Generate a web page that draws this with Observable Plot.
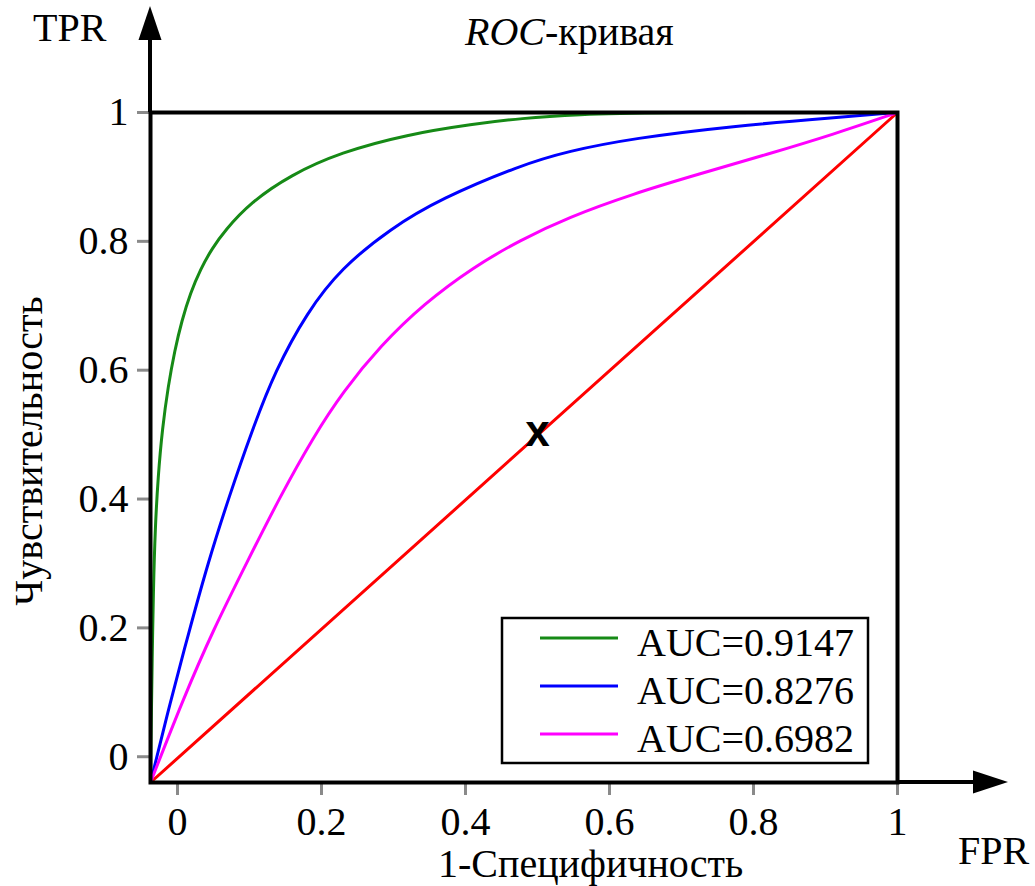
<!DOCTYPE html>
<html>
<head>
<meta charset="utf-8">
<script src="https://cdn.jsdelivr.net/npm/d3@7"></script>
<script src="https://cdn.jsdelivr.net/npm/@observablehq/plot@0.6"></script>
<style>
  html, body { margin: 0; padding: 0; background: #fff; }
  #chart svg { display: block; }
</style>
</head>
<body>
<div id="chart"></div>
<script>
// ---- data ----
const xTicks = [0, 0.2, 0.4, 0.6, 0.8, 1];
const xTickLabels = ["0", "0.2", "0.4", "0.6", "0.8", "1"];
const yTicks = [0, 0.2, 0.4, 0.6, 0.8, 1];
const yTickLabels = ["0", "0.2", "0.4", "0.6", "0.8", "1"];
const xDomain = [-0.0375, 1];
const yDomain = [-0.04, 1];

const seriesNames = ["AUC=0.9147", "AUC=0.8276", "AUC=0.6982"];
const seriesColors = ["#168a16", "#0000ff", "#ff00ff"];

const greenFPR = [-0.0375, -0.0365, -0.0352, -0.0335, -0.031, -0.027, -0.021, -0.013, -0.004, 0.006, 0.018, 0.032, 0.048, 0.066, 0.101, 0.157, 0.226, 0.319, 0.411, 0.476, 0.56, 0.643, 1];
const greenTPR = [-0.04, 0.05, 0.15, 0.26, 0.355, 0.435, 0.51, 0.575, 0.63, 0.677, 0.720, 0.757, 0.789, 0.817, 0.860, 0.903, 0.938, 0.966, 0.982, 0.991, 0.997, 1.0, 1.0];

const blueFPR = [-0.0375, -0.01, 0.015, 0.042, 0.072, 0.103, 0.136, 0.18, 0.227, 0.296, 0.365, 0.476, 0.542, 0.633, 0.772, 0.911, 1];
const blueTPR = [-0.04, 0.085, 0.19, 0.30, 0.405, 0.505, 0.600, 0.69, 0.758, 0.82, 0.866, 0.918, 0.94, 0.960, 0.979, 0.992, 1];

const magentaFPR = [-0.0375, 0.008, 0.05, 0.097, 0.143, 0.189, 0.23, 0.282, 0.342, 0.411, 0.476, 0.542, 0.633, 0.726, 0.819, 0.911, 1];
const magentaTPR = [-0.04, 0.09, 0.198, 0.303, 0.405, 0.497, 0.567, 0.638, 0.703, 0.760, 0.802, 0.837, 0.874, 0.905, 0.935, 0.966, 1];

const diagFPR = [-0.0375, 1];
const diagTPR = [-0.04, 1];
const diagColor = "#ff0000";

const markerFPR = [0.5];
const markerTPR = [0.5];
const markerText = ["x"];

const titleItalic = "ROC";
const titleRest = "-кривая";
const yAxisTitle = "TPR";
const xAxisTitle = "FPR";
const yLabel = "Чувствительность";
const xLabel = "1-Специфичность";

// ---- tables ----
const toRows = (xs, ys) => xs.map((x, i) => ({x, y: ys[i]}));
const curves = [toRows(greenFPR, greenTPR), toRows(blueFPR, blueTPR), toRows(magentaFPR, magentaTPR)];
const diag = toRows(diagFPR, diagTPR);
const markers = markerFPR.map((x, i) => ({x, y: markerTPR[i], t: markerText[i]}));

const FONT = "'Liberation Serif', 'Times New Roman', serif";

// decorations: axis arrows, titles, legend
function decorations(index, scales, values, dim) {
  const g = d3.create("svg:g");
  const left = dim.marginLeft, top = dim.marginTop;
  const right = dim.width - dim.marginRight, bottom = dim.height - dim.marginBottom;
  // y axis arrow
  g.append("line").attr("x1", left).attr("x2", left).attr("y1", top).attr("y2", top - 74)
    .attr("stroke", "black").attr("stroke-width", 4);
  g.append("path").attr("d", `M${left},${top - 106}L${left - 11.5},${top - 72}L${left + 11.5},${top - 72}Z`).attr("fill", "black");
  // x axis arrow
  g.append("line").attr("x1", right).attr("x2", right + 78).attr("y1", bottom).attr("y2", bottom)
    .attr("stroke", "black").attr("stroke-width", 4);
  g.append("path").attr("d", `M${right + 111},${bottom}L${right + 76},${bottom - 11.5}L${right + 76},${bottom + 11.5}Z`).attr("fill", "black");

  const txt = (x, y, s, size) => g.append("text").attr("x", x).attr("y", y)
    .attr("text-anchor", "start")
    .attr("font-family", FONT).attr("font-size", size).attr("fill", "black").text(s);
  txt(33, 41, yAxisTitle, 40);
  txt(958, 864, xAxisTitle, 40);
  txt(438, 877, xLabel, 40);
  const t = g.append("text").attr("x", 465).attr("y", 45).attr("text-anchor", "start")
    .attr("font-family", FONT).attr("font-size", 40).attr("fill", "black");
  t.append("tspan").attr("font-style", "italic").text(titleItalic);
  t.append("tspan").text(titleRest);
  g.append("text").attr("transform", "translate(42,451) rotate(-90)")
    .attr("text-anchor", "middle").attr("font-family", FONT).attr("font-size", 40).attr("fill", "black").text(yLabel);

  // legend
  const lx = 502, ly = 618, lw = 366, lh = 145;
  g.append("rect").attr("x", lx).attr("y", ly).attr("width", lw).attr("height", lh)
    .attr("fill", "white").attr("stroke", "black").attr("stroke-width", 2.5);
  seriesNames.forEach((name, i) => {
    const cy = 638 + i * 48;
    g.append("line").attr("x1", 540).attr("x2", 618).attr("y1", cy).attr("y2", cy)
      .attr("stroke", seriesColors[i]).attr("stroke-width", 3);
    txt(637, 656 + i * 48, name, 40);
  });
  return g.node();
}

const plot = Plot.plot({
  width: 1035,
  height: 886,
  marginLeft: 150,
  marginRight: 138,
  marginTop: 112,
  marginBottom: 104,
  style: {fontFamily: FONT, fontSize: "40px", background: "white", color: "black", overflow: "visible"},
  x: {domain: xDomain},
  y: {domain: yDomain},
  marks: [
    Plot.axisX({ticks: xTicks, tickFormat: d => xTickLabels[xTicks.indexOf(d)], tickSize: 13, tickPadding: 11,
      stroke: "#8a8a8a", strokeWidth: 3, fill: "black", fontSize: 40, label: null}),
    Plot.axisY({ticks: yTicks, tickFormat: d => yTickLabels[yTicks.indexOf(d)], tickSize: 13, tickPadding: 9,
      stroke: "#8a8a8a", strokeWidth: 3, fill: "black", fontSize: 40, label: null}),
    Plot.line(diag, {x: "x", y: "y", stroke: diagColor, strokeWidth: 3}),
    ...curves.map((c, i) => Plot.line(c, {x: "x", y: "y", stroke: seriesColors[i], strokeWidth: 3, curve: "basis"})),
    Plot.text(markers, {x: "x", y: "y", text: "t", fontSize: 44, fontWeight: "bold", fontFamily: "'Liberation Sans', Arial, sans-serif", fill: "black", dy: -3}),
    Plot.frame({stroke: "black", strokeWidth: 4}),
    decorations
  ]
});
document.getElementById("chart").appendChild(plot);
</script>
</body>
</html>
